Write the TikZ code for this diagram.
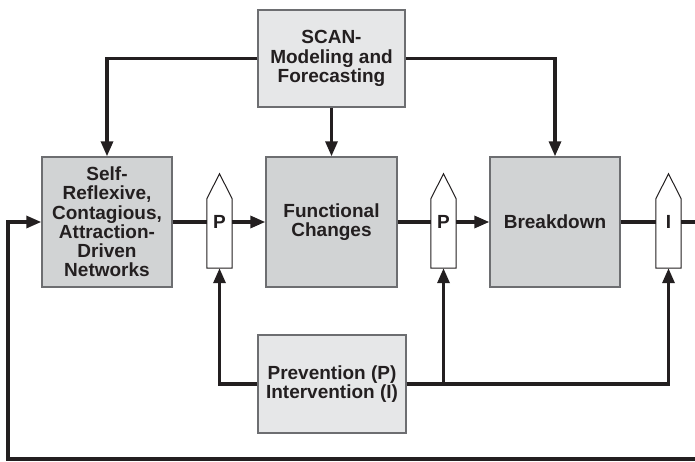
\documentclass[tikz,border=0pt]{standalone}
\usepackage{fontspec}
\setmainfont{Liberation Sans}
\usetikzlibrary{arrows.meta, positioning, calc}

\definecolor{boxlight}{HTML}{E6E7E8}
\definecolor{boxdark}{HTML}{D1D3D4}
\definecolor{boxedge}{HTML}{6D6E71}
\definecolor{ink}{HTML}{231F20}

\begin{document}
\begin{tikzpicture}[x=1pt, y=1pt,
    box/.style={draw=boxedge, line width=1.4pt, align=center, inner sep=0pt,
      text=ink, font=\bfseries\fontsize{19}{19.2}\selectfont},
    lightbox/.style={box, fill=boxlight, minimum width=147, minimum height=97},
    darkbox/.style={box, fill=boxdark, minimum width=130, minimum height=130},
    gate/.style={inner sep=0pt, minimum width=25, minimum height=69},
    gateline/.style={draw=ink, fill=white, line width=1pt},
    gatetext/.style={text=ink, inner sep=0pt, font=\bfseries\fontsize{19}{19.2}\selectfont},
    link/.style={draw=ink, line width=3.2pt},
    arrow/.style={link, -{Triangle[length=15pt,width=12pt]}}]
  \useasboundingbox (0,0) rectangle (695,461);

  % Boxes
  \node[lightbox] (scan) at (331.5,402.5) {SCAN-\\Modeling and\\Forecasting};
  \node[darkbox] (self) at (107,239) {Self-\\Reflexive,\\Contagious,\\Attraction-\\Driven\\Networks};
  \node[darkbox, minimum width=131] (fc) at (331.5,239) {Functional\\Changes};
  \node[darkbox] (bd) at (555,239) {Breakdown};
  \node[lightbox, minimum width=148, minimum height=98] (prev) at (332,77) {Prevention (P)\\Intervention (I)};

  % Gates on the main line (P, P, I)
  \foreach \g/\x/\t in {p1/219.5/P, p2/443.5/P, ii/668.5/I} {
    \node[gate] (\g) at (\x,227.5) {};
    \draw[gateline] (\g.south west) -- (\g.north west) -- ([yshift=25pt]\g.north)
      -- (\g.north east) -- (\g.south east) -- cycle;
    \node[gatetext] (\g t) at (\g |- self) {\t};
  }

  % Loose ends of the feedback loop
  \coordinate (out) at (695,239);
  \coordinate (back) at (695,2);
  \coordinate (loop) at (8,2);

  % Main chain
  \draw[link] (self) -- (self -| p1.west);
  \draw[arrow] (self -| p1.east) -- (fc);
  \draw[link] (fc) -- (fc -| p2.west);
  \draw[arrow] (fc -| p2.east) -- (bd);
  \draw[link] (bd) -- (bd -| ii.west);
  \draw[link] (bd -| ii.east) -- (out);

  % Feedback back into the networks
  \draw[arrow] (back) -- (loop) |- (self.west);

  % SCAN feeds all three stages
  \draw[arrow] (scan.west) -| (self.north);
  \draw[arrow] (scan) -- (fc);
  \draw[arrow] (scan.east) -| (bd.north);

  % Prevention / intervention into the gates
  \draw[arrow] (prev.west) -| (p1.south);
  \draw[arrow] (prev.east) -| (p2.south);
  \draw[arrow] (prev.east) -| (ii.south);
\end{tikzpicture}
\end{document}
